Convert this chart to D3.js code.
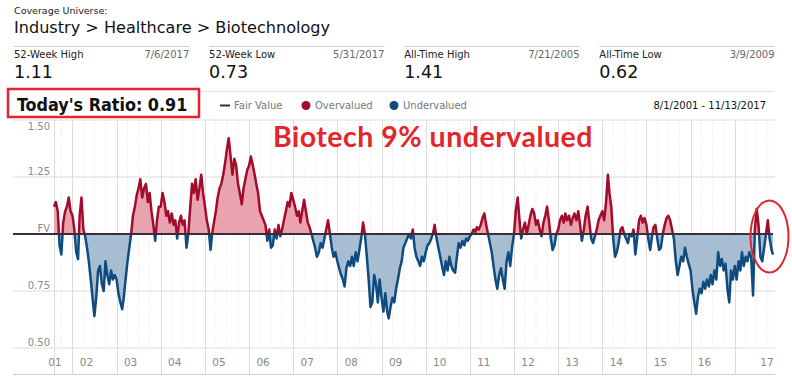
<!DOCTYPE html>
<html>
<head>
<meta charset="utf-8">
<script src="https://cdn.jsdelivr.net/npm/d3@7/dist/d3.min.js"></script>
<style>
  html, body { margin: 0; padding: 0; background: #fff; }
  svg { display: block; }
  text { font-family: "DejaVu Sans", Verdana, sans-serif; }
</style>
</head>
<body>
<svg id="chart" width="792" height="386"></svg>
<script>
// ---------- DATA (ratio of price to fair value, semi-monthly: 1st and 16th) ----------
const ratio2001 = [1.12, 1.14, 1.10, 0.95, 0.91, 1.05, 1.10, 1.12, 1.16, 1.10];
const ratio2002 = [1.08, 1.02, 0.92, 0.89, 1.08, 1.16, 1.02, 0.99, 0.94, 0.88, 0.80, 0.72, 0.64, 0.72, 0.84, 0.86, 0.78, 0.75, 0.88, 0.82, 0.78, 0.84, 0.80, 0.82];
const ratio2003 = [0.80, 0.74, 0.70, 0.67, 0.72, 0.80, 0.88, 0.94, 1.00, 1.08, 1.12, 1.17, 1.20, 1.24, 1.16, 1.20, 1.22, 1.14, 1.18, 1.10, 1.04, 0.97, 1.06, 1.12];
const ratio2004 = [1.12, 1.18, 1.14, 1.08, 1.10, 1.05, 1.09, 1.04, 1.06, 0.98, 1.05, 1.08, 1.04, 1.06, 0.94, 1.00, 1.12, 1.22, 1.18, 1.24, 1.15, 1.20, 1.26, 1.18];
const ratio2005 = [1.12, 1.06, 1.02, 0.93, 1.00, 1.05, 1.10, 1.16, 1.20, 1.22, 1.26, 1.31, 1.37, 1.42, 1.34, 1.26, 1.33, 1.30, 1.22, 1.18, 1.13, 1.20, 1.24, 1.28];
const ratio2006 = [1.30, 1.34, 1.30, 1.26, 1.22, 1.18, 1.10, 1.08, 1.06, 1.04, 0.97, 1.02, 0.94, 0.95, 1.02, 0.98, 1.04, 0.99, 1.02, 1.06, 1.10, 1.14, 1.12, 1.18];
const ratio2007 = [1.15, 1.12, 1.08, 1.10, 1.05, 1.10, 1.15, 1.10, 1.05, 1.03, 1.00, 0.97, 0.94, 0.90, 0.92, 0.96, 0.94, 0.98, 1.02, 1.06, 1.00, 0.94, 0.90, 0.92];
const ratio2008 = [0.88, 0.85, 0.82, 0.80, 0.77, 0.85, 0.88, 0.86, 0.90, 0.86, 0.92, 0.88, 0.93, 0.98, 1.05, 1.00, 0.90, 0.80, 0.68, 0.70, 0.82, 0.78, 0.70, 0.80];
const ratio2009 = [0.72, 0.66, 0.74, 0.66, 0.63, 0.68, 0.72, 0.70, 0.76, 0.80, 0.85, 0.88, 0.94, 0.96, 0.98, 1.00, 0.98, 1.02, 0.94, 0.90, 0.88, 0.86, 0.90, 0.88];
const ratio2010 = [0.92, 0.95, 0.96, 0.98, 1.00, 1.04, 0.98, 0.94, 0.90, 0.86, 0.82, 0.88, 0.84, 0.90, 0.86, 0.84, 0.83, 0.90, 0.96, 0.94, 0.97, 0.95, 0.98, 0.97];
const ratio2011 = [0.99, 1.00, 1.02, 1.01, 1.03, 1.02, 1.04, 1.07, 1.09, 1.04, 1.00, 0.96, 0.92, 0.86, 0.80, 0.76, 0.82, 0.85, 0.80, 0.76, 0.88, 0.92, 0.86, 0.94];
const ratio2012 = [1.00, 1.10, 1.16, 1.06, 0.98, 1.02, 1.05, 1.00, 1.04, 1.08, 1.11, 1.09, 1.04, 1.06, 1.02, 0.99, 1.05, 1.08, 1.12, 1.06, 0.98, 0.93, 0.95, 1.00];
const ratio2013 = [1.02, 1.06, 1.08, 1.05, 1.09, 1.06, 1.08, 1.04, 1.07, 1.09, 1.06, 1.10, 1.04, 0.97, 1.02, 1.08, 1.12, 1.05, 0.98, 0.96, 0.99, 1.02, 1.06, 1.08];
const ratio2014 = [1.10, 1.06, 1.14, 1.26, 1.18, 1.12, 0.98, 0.90, 0.92, 0.96, 1.02, 1.03, 1.00, 0.98, 0.96, 1.00, 0.99, 1.02, 0.91, 0.98, 1.06, 1.08, 1.05, 1.07];
const ratio2015 = [1.04, 0.98, 0.93, 0.99, 1.03, 1.04, 0.98, 0.93, 0.94, 1.00, 1.04, 1.07, 1.08, 1.06, 1.02, 0.98, 0.88, 0.82, 0.86, 0.90, 0.88, 0.94, 0.90, 0.87];
const ratio2016 = [0.84, 0.76, 0.70, 0.65, 0.72, 0.76, 0.74, 0.79, 0.76, 0.80, 0.77, 0.82, 0.78, 0.84, 0.80, 0.92, 0.86, 0.89, 0.84, 0.87, 0.76, 0.70, 0.84, 0.80];
const ratio2017 = [0.86, 0.80, 0.88, 0.84, 0.92, 0.86, 0.90, 0.88, 0.92, 0.90, 0.73, 1.02, 1.11, 1.04, 0.90, 0.88, 0.94, 1.00, 1.06, 0.98, 0.93, 0.91];

const yearSeries = [
  [2001, ratio2001], [2002, ratio2002], [2003, ratio2003], [2004, ratio2004],
  [2005, ratio2005], [2006, ratio2006], [2007, ratio2007], [2008, ratio2008],
  [2009, ratio2009], [2010, ratio2010], [2011, ratio2011], [2012, ratio2012],
  [2013, ratio2013], [2014, ratio2014], [2015, ratio2015], [2016, ratio2016],
  [2017, ratio2017]
];

const yearLabels = ["01","02","03","04","05","06","07","08","09","10","11","12","13","14","15","16","17"];
const yTicks = [0.50, 0.75, 1.00, 1.25, 1.50];
const yTickLabels = ["0.50", "0.75", "FV", "1.25", "1.50"];

const startDate = new Date(2001, 7, 1);
const endDate = new Date(2017, 10, 13);

const stats = [
  { label: "52-Week High", date: "7/6/2017", value: "1.11" },
  { label: "52-Week Low", date: "5/31/2017", value: "0.73" },
  { label: "All-Time High", date: "7/21/2005", value: "1.41" },
  { label: "All-Time Low", date: "3/9/2009", value: "0.62" }
];
const todaysRatio = "0.91";
const fairValue = 1.0;

// ---------- build dated series ----------
const data = [];
yearSeries.forEach(([yr, vals]) => {
  const m0 = yr === 2001 ? 7 : 0;
  vals.forEach((v, i) => {
    data.push({ date: new Date(yr, m0 + Math.floor(i / 2), i % 2 ? 16 : 1), value: v });
  });
});
data[data.length - 1].date = endDate;

// ---------- chart ----------
const svg = d3.select("#chart");
const C = {
  red: "#a30b2c", redFill: "#e8a3ae",
  blue: "#0f4b7e", blueFill: "#a7bdd2",
  grid: "#dcdcdc", axisText: "#8a8a8a"
};

const x = d3.scaleTime().domain([startDate, endDate]).range([54, 773]);
const y = d3.scaleLinear().domain([0.5, 1.5]).range([348, 120]);
const gridLeft = 13, gridRight = 775;

// header
svg.append("text").attr("x", 14).attr("y", 13.5).attr("font-size", 9.5).attr("fill", "#222").text("Coverage Universe:");
svg.append("text").attr("x", 14).attr("y", 32.7).attr("font-size", 16.1).attr("fill", "#111").text("Industry > Healthcare > Biotechnology");

const colW = 195.1;
stats.forEach((s, i) => {
  const x0 = 14 + i * colW, x1 = x0 + 175.3;
  svg.append("line").attr("x1", x0).attr("x2", x1).attr("y1", 46.5).attr("y2", 46.5).attr("stroke", "#cfcfcf").attr("stroke-width", 1);
  svg.append("text").attr("x", x0).attr("y", 58.3).attr("font-size", 10).attr("fill", "#222").text(s.label);
  svg.append("text").attr("x", x1).attr("y", 58.3).attr("font-size", 10).attr("fill", "#666").attr("text-anchor", "end").text(s.date);
  svg.append("text").attr("x", x0).attr("y", 78).attr("font-size", 17.5).attr("fill", "#111").text(s.value);
});

// legend strip line
svg.append("line").attr("x1", 200).attr("x2", 773).attr("y1", 91.5).attr("y2", 91.5).attr("stroke", "#dedede");

// today's ratio box
svg.append("rect").attr("x", 8).attr("y", 89).attr("width", 191).attr("height", 28)
  .attr("fill", "#fff").attr("stroke", "#e0262e").attr("stroke-width", 2.5);
svg.append("text").attr("x", 17).attr("y", 110.7).attr("font-size", 17.8).attr("font-weight", "bold")
  .attr("fill", "#111").style("font-family", "'DejaVu Sans Condensed', 'DejaVu Sans', sans-serif")
  .text("Today's Ratio: " + todaysRatio);

// legend
const lg = svg.append("g").attr("font-size", 10).attr("fill", "#777");
lg.append("line").attr("x1", 220).attr("x2", 230).attr("y1", 105.5).attr("y2", 105.5).attr("stroke", "#3a2c3d").attr("stroke-width", 2);
lg.append("text").attr("x", 234).attr("y", 109).text("Fair Value");
lg.append("circle").attr("cx", 306).attr("cy", 105.5).attr("r", 4.5).attr("fill", C.red);
lg.append("text").attr("x", 315).attr("y", 109).text("Overvalued");
lg.append("circle").attr("cx", 394).attr("cy", 105.5).attr("r", 4.5).attr("fill", C.blue);
lg.append("text").attr("x", 403).attr("y", 109).text("Undervalued");
svg.append("text").attr("x", 766).attr("y", 109).attr("text-anchor", "end").attr("font-size", 10).attr("fill", "#111")
  .text("8/1/2001 - 11/13/2017");

// grid
const g = svg.append("g");
const quarters = d3.timeMonth.every(3).range(startDate, endDate).filter(d => d.getMonth() !== 0);
g.selectAll(".qgrid").data(quarters).enter().append("line")
  .attr("x1", d => x(d)).attr("x2", d => x(d)).attr("y1", 120).attr("y2", 348)
  .attr("stroke", "#e2e2e2").attr("stroke-dasharray", "1,2");
yTicks.filter(v => v !== fairValue).forEach(v => {
  g.append("line").attr("x1", gridLeft).attr("x2", gridRight).attr("y1", y(v)).attr("y2", y(v))
    .attr("stroke", C.grid);
});
const years = d3.timeYear.range(new Date(2002, 0, 1), endDate);
g.selectAll(".ygrid").data([startDate].concat(years)).enter().append("line")
  .attr("x1", d => Math.round(x(d)) + 0.5).attr("x2", d => Math.round(x(d)) + 0.5)
  .attr("y1", 120).attr("y2", 374).attr("stroke", C.grid);
g.append("line").attr("x1", gridLeft).attr("x2", gridRight).attr("y1", 374.5).attr("y2", 374.5).attr("stroke", "#cfcfcf");

// y labels
yTicks.forEach((v, i) => {
  const yy = v === 1.5 ? 130 : y(v) - 2;
  g.append("text").attr("x", 50).attr("y", yy).attr("text-anchor", "end")
    .attr("font-size", 10).attr("fill", C.axisText).text(yTickLabels[i]);
});

// x labels
yearLabels.forEach((lab, i) => {
  const yr = 2001 + i;
  let xx;
  if (i === 0) xx = x(startDate) + 1;
  else if (i === yearLabels.length - 1) xx = x(endDate) - 6;
  else xx = x(new Date(yr, 0, 1)) + 14;
  g.append("text").attr("x", xx).attr("y", 366).attr("text-anchor", "middle")
    .attr("font-size", 10.5).attr("fill", "#888").text(lab);
});

// clip paths
const defs = svg.append("defs");
defs.append("clipPath").attr("id", "above").append("rect")
  .attr("x", 0).attr("y", 0).attr("width", 792).attr("height", y(fairValue));
defs.append("clipPath").attr("id", "below").append("rect")
  .attr("x", 0).attr("y", y(fairValue)).attr("width", 792).attr("height", 386 - y(fairValue));

const area = d3.area().x(d => x(d.date)).y0(y(fairValue)).y1(d => y(d.value));
const line = d3.line().x(d => x(d.date)).y(d => y(d.value));

[["above", C.redFill, C.red], ["below", C.blueFill, C.blue]].forEach(([id, fill, stroke]) => {
  const gg = svg.append("g").attr("clip-path", `url(#${id})`);
  gg.append("path").datum(data).attr("d", area).attr("fill", fill);
  gg.append("path").datum(data).attr("d", line).attr("fill", "none")
    .attr("stroke", stroke).attr("stroke-width", 2.5).attr("stroke-linejoin", "round");
});

// fair value line
svg.append("line").attr("x1", gridLeft).attr("x2", x(endDate)).attr("y1", y(fairValue)).attr("y2", y(fairValue))
  .attr("stroke", "#3a2c3d").attr("stroke-width", 2);

// annotation
svg.append("text").attr("x", 273).attr("y", 147).attr("font-size", 28.5).attr("font-weight", "bold")
  .attr("letter-spacing", 0.5)
  .attr("fill", "#e3262c").style("font-family", "Lato, 'Open Sans', sans-serif")
  .text("Biotech 9% undervalued");
svg.append("ellipse").attr("cx", 769.5).attr("cy", 236.5).attr("rx", 19).attr("ry", 36)
  .attr("fill", "none").attr("stroke", "#e0262e").attr("stroke-width", 2);
</script>
</body>
</html>
